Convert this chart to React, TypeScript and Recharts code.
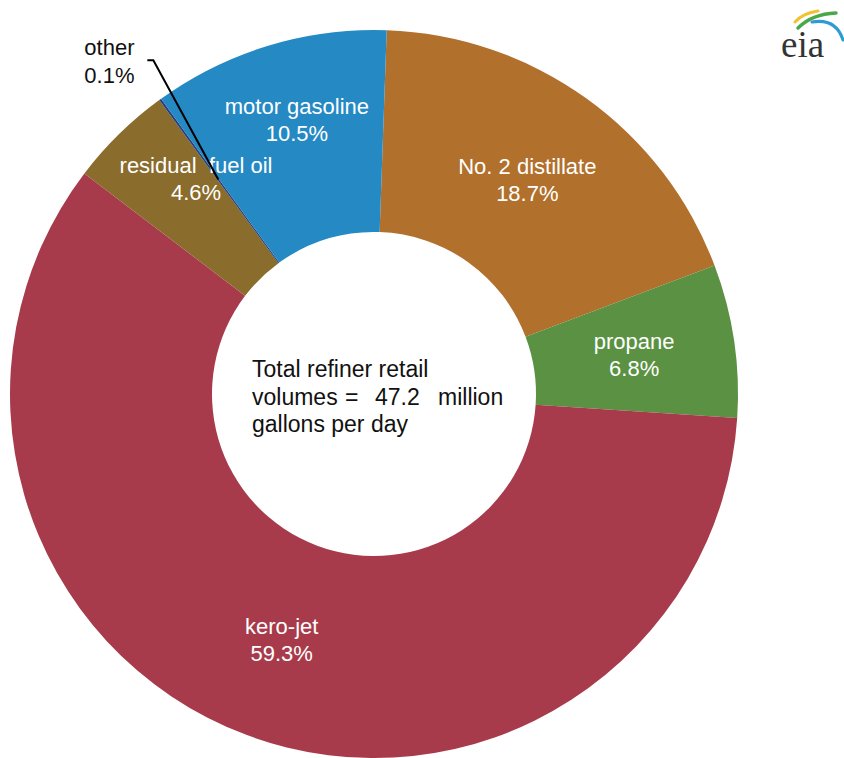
import React from 'react';
import { PieChart, Pie, Cell } from 'recharts';

const categories = ['No. 2 distillate', 'propane', 'kero-jet', 'residual fuel oil', 'other', 'motor gasoline'];
const shares = [18.7, 6.8, 59.3, 4.6, 0.1, 10.5];
const colors = ['#B1702C', '#5A9142', '#A83B4B', '#8A6C2C', '#2A3E7C', '#2589C4'];
const totalVolume = 47.2;

const data = categories.map((name, i) => ({ name, value: shares[i] }));

const RAD = Math.PI / 180;
const CX = 374;
const CY = 394;
const INNER = 162;
const OUTER = 364;

const nudges: Record<string, { dr: number; da: number }> = {
  'motor gasoline': { dr: 22, da: -1.2 },
  'residual fuel oil': { dr: 16, da: -4.8 },
};

const FONT = 'Liberation Sans, Arial, sans-serif';

const polar = (cx: number, cy: number, r: number, a: number) => ({
  x: cx + r * Math.cos(-a * RAD),
  y: cy + r * Math.sin(-a * RAD),
});

const renderLabel = (props: any) => {
  const { cx, cy, midAngle, innerRadius, outerRadius, name, value } = props;
  if (name === 'other') {
    const end = polar(cx, cy, 265, midAngle);
    const elbow = polar(cx, cy, 400, midAngle - 2.5);
    const tail = { x: elbow.x - 6, y: elbow.y };
    return (
      <g>
        <polyline
          points={`${tail.x},${tail.y} ${elbow.x},${elbow.y} ${end.x},${end.y}`}
          fill="none"
          stroke="#000"
          strokeWidth={2}
        />
        <text x={elbow.x - 69} y={elbow.y - 13} fill="#111" fontSize={22} fontFamily={FONT} dominantBaseline="central">
          {name}
        </text>
        <text x={elbow.x - 69} y={elbow.y + 15} fill="#111" fontSize={22} fontFamily={FONT} dominantBaseline="central">
          {`${value}%`}
        </text>
      </g>
    );
  }
  const n = nudges[name] || { dr: 0, da: 0 };
  const r = (innerRadius + outerRadius) / 2 + n.dr;
  const p = polar(cx, cy, r, midAngle + n.da);
  const label = name === 'residual fuel oil' ? 'residual  fuel oil' : name;
  return (
    <g>
      <text x={p.x} y={p.y - 13.5} fill="#fff" fontSize={22} fontFamily={FONT} textAnchor="middle" dominantBaseline="central" style={{ whiteSpace: 'pre' }}>
        {label}
      </text>
      <text x={p.x} y={p.y + 13.5} fill="#fff" fontSize={22} fontFamily={FONT} textAnchor="middle" dominantBaseline="central">
        {`${value.toFixed(1)}%`}
      </text>
    </g>
  );
};

export default function App() {
  return (
    <div style={{ position: 'absolute', left: 0, top: 0, width: 844, height: 758, background: '#fff' }}>
      <PieChart width={844} height={758} margin={{ top: 0, right: 0, bottom: 0, left: 0 }}>
        <Pie
          data={data}
          dataKey="value"
          nameKey="name"
          cx={CX}
          cy={CY}
          innerRadius={INNER}
          outerRadius={OUTER}
          startAngle={88}
          endAngle={-272}
          stroke="none"
          label={renderLabel}
          labelLine={false}
          isAnimationActive={false}
        >
          {data.map((d, i) => (
            <Cell key={d.name} fill={colors[i]} />
          ))}
        </Pie>
      </PieChart>
      <svg width={844} height={758} style={{ position: 'absolute', left: 0, top: 0, pointerEvents: 'none' }}>
        <g fontFamily={FONT} fontSize={23} fill="#111">
          <text x={CX - 122} y={377}>Total refiner retail</text>
          <text y={405}>
            <tspan x={CX - 122}>volumes</tspan>
            <tspan x={CX - 29}>=</tspan>
            <tspan x={CX + 1}>{totalVolume.toFixed(1)}</tspan>
            <tspan x={CX + 64}>million</tspan>
          </text>
          <text x={CX - 122} y={432}>gallons per day</text>
        </g>
        <g>
          <path d="M795,22 Q803,13 818,11" stroke="#F2C12E" strokeWidth={3} fill="none" strokeLinecap="round" />
          <path d="M798,28 Q812,14 836,13" stroke="#4BA84A" strokeWidth={3.5} fill="none" strokeLinecap="round" />
          <path d="M812,22 Q836,18 843,40" stroke="#2E9AD6" strokeWidth={3} fill="none" strokeLinecap="round" />
          <text x={781} y={57} fontFamily="Liberation Serif, Times New Roman, serif" fontSize={37} fill="#333">eia</text>
        </g>
      </svg>
    </div>
  );
}
